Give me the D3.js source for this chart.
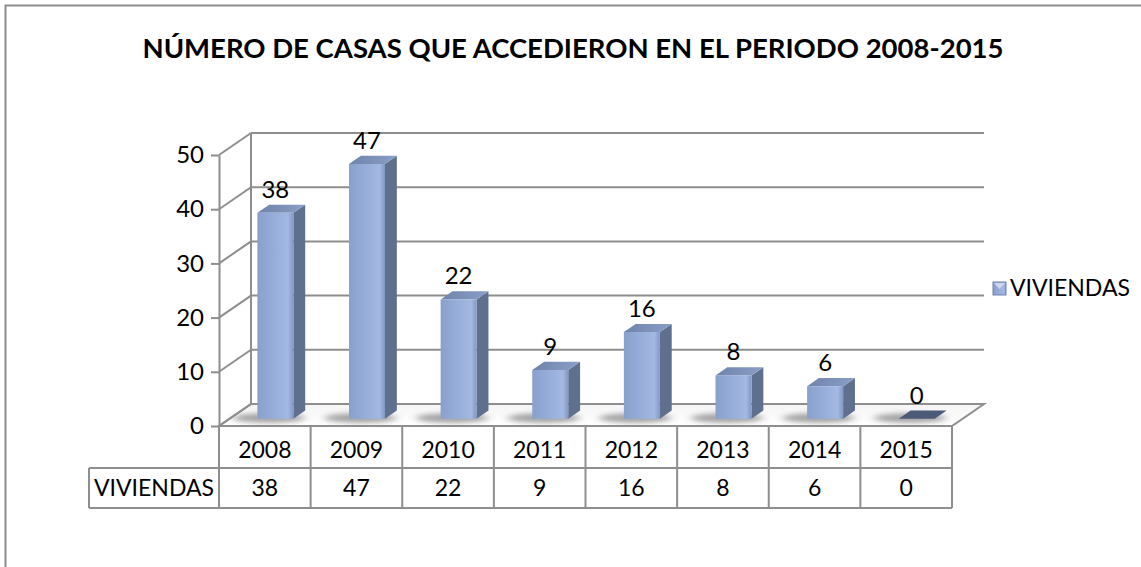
<!DOCTYPE html>
<html>
<head>
<meta charset="utf-8">
<script src="https://cdn.jsdelivr.net/npm/d3@7"></script>
<style>
  body { margin: 0; background: #fff; }
  svg text { font-family: Lato, "Open Sans", sans-serif; fill: #000; }
</style>
</head>
<body>
<div id="chart"></div>
<script>
// chart data
var title = "NÚMERO DE CASAS QUE ACCEDIERON EN EL PERIODO 2008-2015";
var seriesName = "VIVIENDAS";
var years = ["2008", "2009", "2010", "2011", "2012", "2013", "2014", "2015"];
var viviendas = [38, 47, 22, 9, 16, 8, 6, 0];
var yTicks = [0, 10, 20, 30, 40, 50];

var W = 1141, H = 567;
var depth = { dx: 32, dy: -22 };   // oblique offset of the back wall
var barW = 36, z0 = 0.33, z1 = 0.70; // bar width and depth slice

var svg = d3.select("#chart").append("svg")
  .attr("width", W).attr("height", H);

var defs = svg.append("defs");
var gFront = defs.append("linearGradient").attr("id", "front").attr("x1", 0).attr("x2", 1);
gFront.append("stop").attr("offset", "0%").attr("stop-color", "#8aa0cc");
gFront.append("stop").attr("offset", "55%").attr("stop-color", "#9ab0dc");
gFront.append("stop").attr("offset", "85%").attr("stop-color", "#a3b9e3");
gFront.append("stop").attr("offset", "100%").attr("stop-color", "#8297c2");
var gTop = defs.append("linearGradient").attr("id", "topf").attr("x1", 0).attr("x2", 1);
gTop.append("stop").attr("offset", "0%").attr("stop-color", "#6f83ab");
gTop.append("stop").attr("offset", "100%").attr("stop-color", "#8a9ec6");
var gFloor = defs.append("linearGradient").attr("id", "floor").attr("x1", 0).attr("x2", 0).attr("y1", 0).attr("y2", 1);
gFloor.append("stop").attr("offset", "0%").attr("stop-color", "#f4f4f4");
gFloor.append("stop").attr("offset", "100%").attr("stop-color", "#ffffff");
defs.append("filter").attr("id", "blur").attr("x", "-50%").attr("y", "-100%").attr("width", "200%").attr("height", "300%")
  .append("feGaussianBlur").attr("stdDeviation", "4 2.5");

// outer frame (cut off on right and bottom)
svg.append("rect")
  .attr("x", 5.5).attr("y", 5.5).attr("width", W + 10).attr("height", H + 10)
  .attr("fill", "none").attr("stroke", "#8c8c8c").attr("stroke-width", 2);

svg.append("text")
  .attr("x", 573).attr("y", 58)
  .attr("text-anchor", "middle")
  .style("font-size", "27.5px").style("font-weight", "bold")
  .text(title);

var x = d3.scaleBand().domain(years).range([219, 952]);
var y = d3.scaleLinear().domain([0, 50]).range([426, 155]);

function proj(px, v, z) {
  return [px + z * depth.dx, y(v) + z * depth.dy];
}
function poly(pts) { return "M" + pts.map(function(p) { return p.join(","); }).join("L") + "Z"; }

var plot = svg.append("g");
var gridColor = "#8e8e8e";

// floor
plot.append("path")
  .attr("d", poly([proj(219, 0, 0), proj(952, 0, 0), proj(952, 0, 1), proj(219, 0, 1)]))
  .attr("fill", "url(#floor)").attr("stroke", gridColor).attr("stroke-width", 2);

// back wall gridlines + side wall diagonals
yTicks.forEach(function(t) {
  if (t > 0) {
    plot.append("path")
      .attr("d", "M" + proj(219, t, 1).join(",") + "L" + proj(952, t, 1).join(","))
      .attr("stroke", gridColor).attr("stroke-width", 2).attr("fill", "none");
  }
  plot.append("path")
    .attr("d", "M" + proj(219, t, 0).join(",") + "L" + proj(219, t, 1).join(","))
    .attr("stroke", gridColor).attr("stroke-width", 2).attr("fill", "none");
});
plot.append("path")
  .attr("d", "M" + proj(219, 0, 1).join(",") + "L" + proj(219, 50, 1).join(","))
  .attr("stroke", gridColor).attr("stroke-width", 2);

// front value axis
var axis = plot.append("g")
  .attr("transform", "translate(219,0)")
  .call(d3.axisLeft(y).tickValues(yTicks).tickSize(8).tickSizeOuter(0).tickPadding(7));
axis.selectAll("line, path").attr("stroke", gridColor).attr("stroke-width", 2);
axis.selectAll("text").style("font-size", "24px").attr("fill", "#000");

// bars
var data = years.map(function(yr, i) { return { year: yr, v: viviendas[i] }; });
var bars = plot.selectAll(".bar").data(data).enter().append("g").attr("class", "bar");

// soft shadows on the floor
bars.append("ellipse")
  .attr("cx", function(d) { return x(d.year) + x.bandwidth() / 2 + 4; })
  .attr("cy", 418)
  .attr("rx", 36).attr("ry", 5)
  .attr("fill", "#8f8f8f").attr("opacity", 0.8)
  .attr("filter", "url(#blur)");

bars.each(function(d) {
  var g = d3.select(this);
  var c = x(d.year) + x.bandwidth() / 2;
  var l = c - barW / 2, r = c + barW / 2;
  if (d.v === 0) {
    g.append("path")
      .attr("d", poly([proj(l, 0, z0), proj(r, 0, z0), proj(r, 0, z1), proj(l, 0, z1)]))
      .attr("fill", "#4b5a76");
    return;
  }
  g.append("path")
    .attr("d", poly([proj(r, d.v, z0), proj(r, d.v, z1), proj(r, 0, z1), proj(r, 0, z0)]))
    .attr("fill", "#5f6f8e");
  g.append("path")
    .attr("d", poly([proj(l, d.v, z0), proj(r, d.v, z0), proj(r, d.v, z1), proj(l, d.v, z1)]))
    .attr("fill", "url(#topf)");
  var p = proj(l, d.v, z0), b = proj(l, 0, z0);
  g.append("rect")
    .attr("x", p[0]).attr("y", p[1])
    .attr("width", barW).attr("height", b[1] - p[1])
    .attr("fill", "url(#front)");
});

// value labels
bars.append("text")
  .attr("x", function(d) { return proj(x(d.year) + x.bandwidth() / 2, d.v, z0)[0]; })
  .attr("y", function(d) { return proj(0, d.v, z1)[1] - 7; })
  .attr("text-anchor", "middle")
  .style("font-size", "24px")
  .text(function(d) { return d.v; });

// data table
var rowTop = 427, rowMid = 468, rowBot = 508, headL = 89;
var table = svg.append("g").attr("stroke", gridColor).attr("stroke-width", 2);
x.domain().forEach(function(yr) {
  table.append("line").attr("x1", x(yr)).attr("x2", x(yr)).attr("y1", rowTop).attr("y2", rowBot);
});
table.append("line").attr("x1", 952).attr("x2", 952).attr("y1", rowTop).attr("y2", rowBot);
table.append("line").attr("x1", headL).attr("x2", headL).attr("y1", rowMid).attr("y2", rowBot);
table.append("line").attr("x1", headL).attr("x2", 952).attr("y1", rowMid).attr("y2", rowMid);
table.append("line").attr("x1", headL).attr("x2", 952).attr("y1", rowBot).attr("y2", rowBot);

var cells = svg.append("g").style("font-size", "23px").attr("text-anchor", "middle");
data.forEach(function(d) {
  var cx = x(d.year) + x.bandwidth() / 2;
  cells.append("text").attr("x", cx).attr("y", (rowTop + rowMid) / 2 + 10).text(d.year);
  cells.append("text").attr("x", cx).attr("y", (rowMid + rowBot) / 2 + 8).text(d.v);
});
cells.append("text").attr("x", (headL + 219) / 2).attr("y", (rowMid + rowBot) / 2 + 8).text(seriesName);

// legend
var lg = svg.append("g").attr("transform", "translate(993,282)");
lg.append("rect").attr("width", 13).attr("height", 13).attr("fill", "url(#front)").attr("stroke", "#6f83ab");
lg.append("path").attr("d", "M1,1L6.5,7L12,1Z").attr("fill", "#cdd8ee");
lg.append("text").attr("x", 17).attr("y", 14).style("font-size", "23px").text(seriesName);
</script>
</body>
</html>
